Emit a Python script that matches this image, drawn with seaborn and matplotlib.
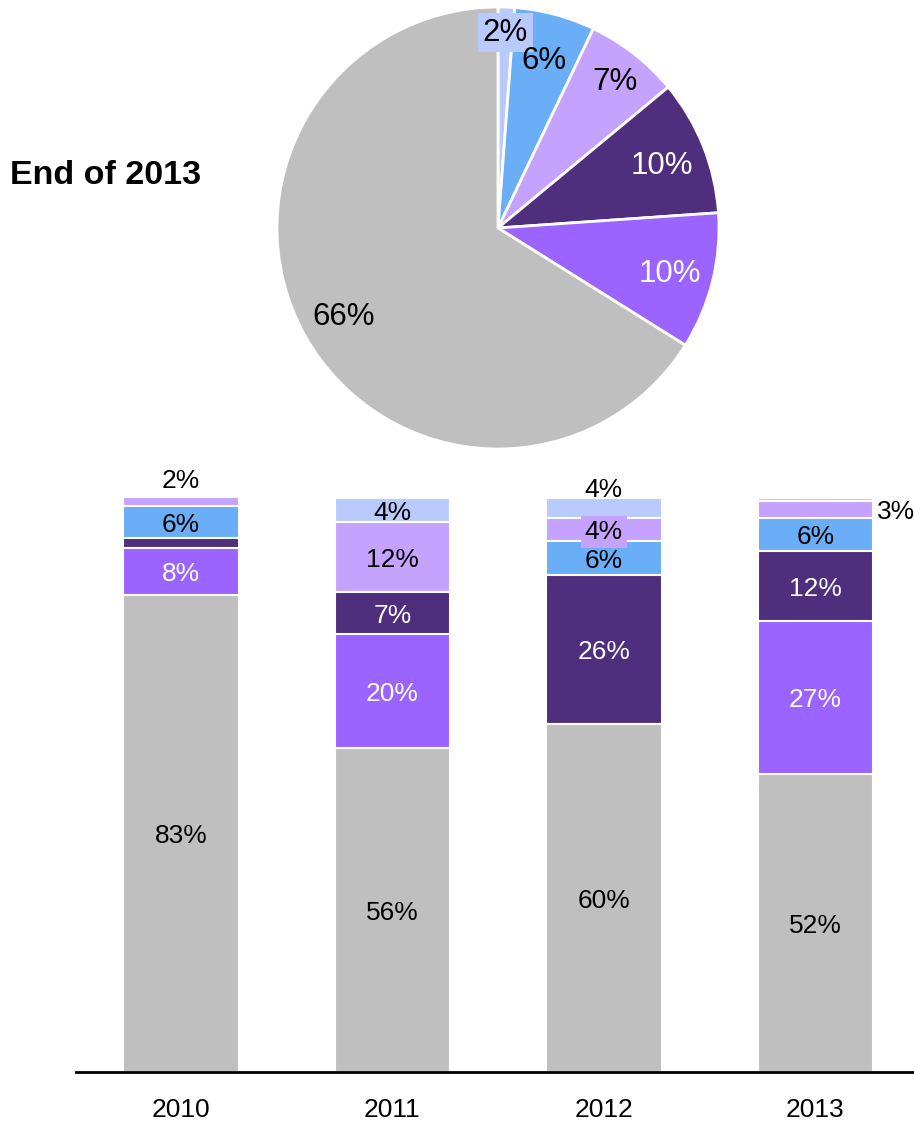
import numpy as np
import pandas as pd
import matplotlib
matplotlib.use('Agg')
import matplotlib.pyplot as plt
import seaborn as sns

# pie: share at end of 2013 (clockwise from top)
pie_vals = [1.2, 5.9, 6.9, 9.9, 10.0, 66.1]
pie_labels = ['2%', '6%', '7%', '10%', '10%', '66%']

# stacked bars, bottom to top
years = ['2010', '2011', '2012', '2013']
gray_vals = [83.0, 56.3, 60.5, 51.8]
purple_vals = [8.2, 19.8, 0.0, 26.6]
dark_vals = [1.6, 7.4, 25.9, 12.2]
blue_vals = [5.6, 0.0, 5.9, 5.7]
lilac_vals = [1.6, 12.1, 4.0, 3.0]
light_vals = [0.0, 4.2, 3.6, 0.5]

#colours and text colours per layer
GRAY, PURPLE, DARK = '#bfbfbf', '#9b63ff', '#4f2e7d'
BLUE, LILAC, LIGHT = '#69aef6', '#c5a2fd', '#b9cafd'
pie_colors = [LIGHT, BLUE, LILAC, DARK, PURPLE, GRAY]
pie_text = ['black', 'black', 'black', 'white', 'white', 'black']
pie_dist = [0.9, 0.8, 0.86, 0.8, 0.8, 0.8]

layers = [gray_vals, purple_vals, dark_vals, blue_vals, lilac_vals, light_vals]
layer_colors = [GRAY, PURPLE, DARK, BLUE, LILAC, LIGHT]
layer_text = ['black', 'white', 'white', 'black', 'black', 'black']

sns.set_theme(style='white')
plt.rcParams['font.family'] = ['Liberation Sans', 'DejaVu Sans']
plt.rcParams['text.color'] = 'black'
plt.rcParams['xtick.color'] = 'black'

fig = plt.figure(figsize=(9.14, 11.24), dpi=100)

# ---- pie ----
W, H = 914, 1124
ax_pie = fig.add_axes([277 / W, 1 - 449 / H, 442 / W, 442 / H])
wedges, _ = ax_pie.pie(pie_vals, colors=pie_colors, startangle=90, counterclock=False,
                       wedgeprops=dict(edgecolor='white', linewidth=2))
for w in wedges:
    w.set_clip_on(False)
ax_pie.set_xlim(-1, 1)
ax_pie.set_ylim(-1, 1)
ax_pie.set_aspect('equal')
ax_pie.axis('off')
for i, w in enumerate(wedges):
    ang = np.deg2rad((w.theta1 + w.theta2) / 2)
    r = pie_dist[i]
    bbox = dict(boxstyle='square,pad=0.15', fc=LIGHT, ec='none') if i == 0 else None
    ax_pie.text(r * np.cos(ang), r * np.sin(ang), pie_labels[i], ha='center', va='center_baseline',
                fontsize=22.5, color=pie_text[i], bbox=bbox)

fig.text(10 / W, 1 - 172 / H, 'End of 2013', fontsize=24.5, fontweight='bold',
         ha='left', va='center_baseline')

# ---- stacked bars (overlay cumulative sums) ----
ax = fig.add_axes([76 / W, 1 - 1072 / H, 1 - 76 / W, 575 / H])
cum = np.cumsum(np.array(layers), axis=0)
for k in range(len(layers) - 1, -1, -1):
    df = pd.DataFrame({'year': years, 'value': cum[k]})
    sns.barplot(data=df, x='year', y='value', color=layer_colors[k], saturation=1,
                width=0.545, edgecolor='white', linewidth=1.5, errorbar=None, ax=ax)

# labels that sit outside or need a box
special = {(0, 4): ('above', 3.3), (0, 2): ('left', 0.312), (2, 5): ('above', 1.7),
           (2, 4): ('box', 0), (3, 4): ('right', 0.293)}
for i in range(len(years)):
    for j in range(len(layers)):
        h = layers[j][i]
        if h < 1:
            continue
        bottom = cum[j][i] - h
        y = bottom + h / 2
        txt = '{:.0f}%'.format(h)
        kind, off = special.get((i, j), ('in', 0))
        kw = dict(fontsize=19, va='center_baseline', ha='center', color=layer_text[j], clip_on=False)
        if kind == 'above':
            ax.text(i, cum[-1][i] + off, txt, **kw)
        elif kind == 'left':
            kw['ha'] = 'right'
            ax.text(i - off, y, txt, **kw)
        elif kind == 'right':
            kw['ha'] = 'left'
            ax.text(i + off, y, txt, **kw)
        elif kind == 'box':
            ax.text(i, y, txt, bbox=dict(boxstyle='square,pad=0.15', fc=layer_colors[j], ec='none'), **kw)
        else:
            ax.text(i, y, txt, **kw)

ax.set_xlim(-0.496, 3.466)
ax.set_ylim(0, 100)
ax.set_xlabel('')
ax.set_ylabel('')
ax.set_yticks([])
ax.tick_params(axis='x', length=0, pad=19, labelsize=19)
sns.despine(ax=ax, left=True)
ax.spines['bottom'].set_color('black')
ax.spines['bottom'].set_linewidth(2)

plt.savefig('out.png', dpi=100)
